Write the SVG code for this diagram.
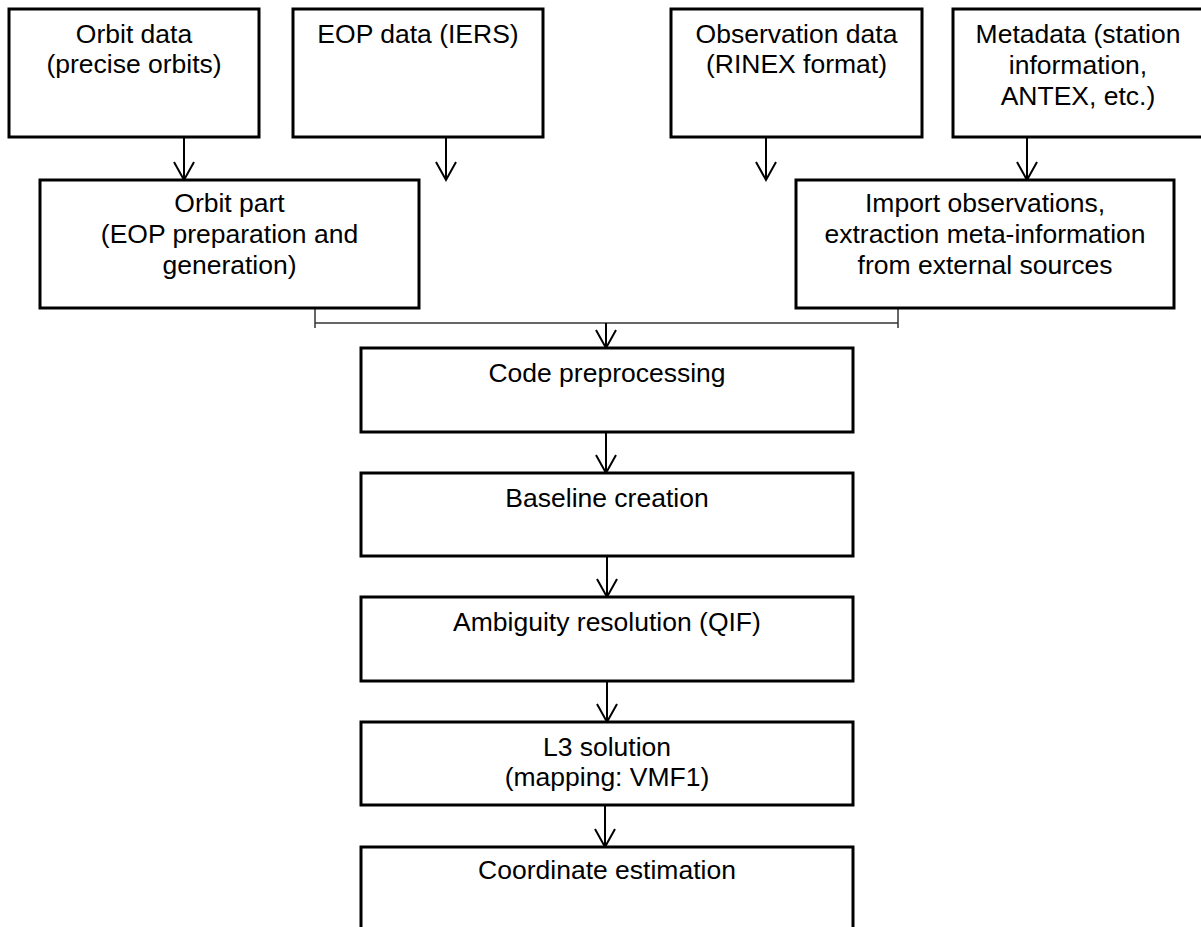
<svg xmlns="http://www.w3.org/2000/svg" width="1201" height="927" viewBox="0 0 1201 927">
  <style>
    .box { fill: #ffffff; stroke: #000000; stroke-width: 3; }
    .lbl { font-family: "Liberation Sans", Arial, sans-serif; font-size: 26.5px; fill: #000000; text-anchor: middle; }
    .arr { stroke: #000000; stroke-width: 2; fill: none; marker-end: url(#vhead); }
    .bus { stroke: #333333; stroke-width: 1.5; fill: none; }
  </style>
  <defs>
    <marker id="vhead" markerUnits="userSpaceOnUse" viewBox="-20 -12 24 24" markerWidth="24" markerHeight="24" refX="0" refY="0" orient="auto" overflow="visible">
      <path d="M-18,-10 L0,0 L-18,10" fill="none" stroke="#000000" stroke-width="2"/>
    </marker>
  </defs>
  <rect width="1201" height="927" fill="#ffffff"/>

  <g id="connectors">
    <line class="arr" x1="184" y1="137" x2="184" y2="180"/>
    <line class="arr" x1="446" y1="137" x2="446" y2="180"/>
    <line class="arr" x1="766" y1="137" x2="766" y2="180"/>
    <line class="arr" x1="1027" y1="137" x2="1027" y2="180"/>
    <line class="bus" x1="315" y1="323" x2="898" y2="323"/>
    <line class="bus" x1="315" y1="304" x2="315" y2="328"/>
    <line class="bus" x1="898" y1="304" x2="898" y2="328"/>
    <line class="arr" x1="606" y1="323" x2="606" y2="348"/>
    <line class="arr" x1="606" y1="432" x2="606" y2="473"/>
    <line class="arr" x1="607" y1="556" x2="607" y2="597"/>
    <line class="arr" x1="607" y1="681" x2="607" y2="722"/>
    <line class="arr" x1="605" y1="805" x2="605" y2="847"/>
  </g>

  <g id="orbit-data">
    <rect class="box" x="9" y="9" width="250" height="128"/>
    <text class="lbl" x="134" y="43">Orbit data</text>
    <text class="lbl" x="134" y="73">(precise orbits)</text>
  </g>
  <g id="eop-data">
    <rect class="box" x="293" y="9" width="250" height="128"/>
    <text class="lbl" x="418" y="43">EOP data (IERS)</text>
  </g>
  <g id="observation-data">
    <rect class="box" x="671" y="9" width="251" height="128"/>
    <text class="lbl" x="796.5" y="43">Observation data</text>
    <text class="lbl" x="796.5" y="73">(RINEX format)</text>
  </g>
  <g id="metadata">
    <rect class="box" x="953" y="9" width="250" height="128"/>
    <text class="lbl" x="1078" y="43">Metadata (station</text>
    <text class="lbl" x="1078" y="74">information,</text>
    <text class="lbl" x="1078" y="105">ANTEX, etc.)</text>
  </g>
  <g id="orbit-part">
    <rect class="box" x="40" y="180" width="379" height="128"/>
    <text class="lbl" x="229.5" y="212">Orbit part</text>
    <text class="lbl" x="229.5" y="243">(EOP preparation and</text>
    <text class="lbl" x="229.5" y="274">generation)</text>
  </g>
  <g id="import-observations">
    <rect class="box" x="796" y="180" width="378" height="128"/>
    <text class="lbl" x="985" y="212">Import observations,</text>
    <text class="lbl" x="985" y="243">extraction meta-information</text>
    <text class="lbl" x="985" y="274">from external sources</text>
  </g>
  <g id="code-preprocessing">
    <rect class="box" x="361" y="348" width="492" height="84"/>
    <text class="lbl" x="607" y="382">Code preprocessing</text>
  </g>
  <g id="baseline-creation">
    <rect class="box" x="361" y="473" width="492" height="83"/>
    <text class="lbl" x="607" y="507">Baseline creation</text>
  </g>
  <g id="ambiguity-resolution">
    <rect class="box" x="361" y="597" width="492" height="84"/>
    <text class="lbl" x="607" y="631">Ambiguity resolution (QIF)</text>
  </g>
  <g id="l3-solution">
    <rect class="box" x="361" y="722" width="492" height="83"/>
    <text class="lbl" x="607" y="756">L3 solution</text>
    <text class="lbl" x="607" y="786">(mapping: VMF1)</text>
  </g>
  <g id="coordinate-estimation">
    <rect class="box" x="361" y="847" width="492" height="84"/>
    <text class="lbl" x="607" y="879">Coordinate estimation</text>
  </g>
</svg>
